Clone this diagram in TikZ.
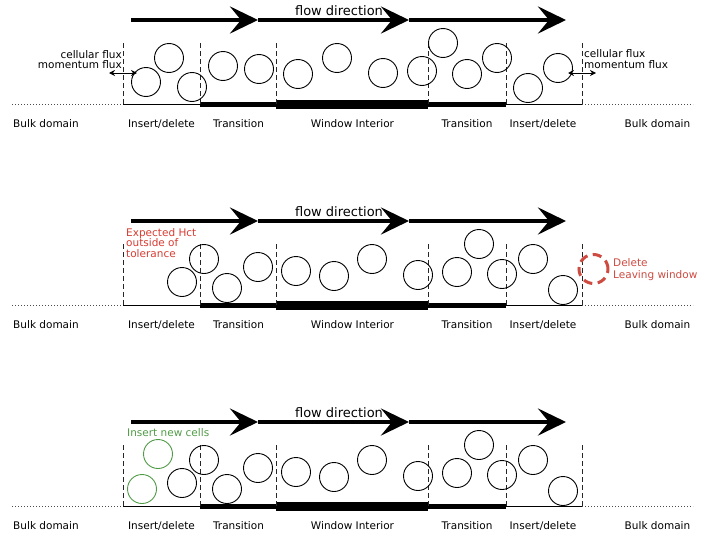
\documentclass[tikz,border=0pt]{standalone}
\usepackage{fontspec}
\setmainfont{DejaVu Sans}
\usetikzlibrary{arrows.meta}
\definecolor{hctred}{RGB}{215,60,50}
\definecolor{delred}{RGB}{205,75,65}
\definecolor{insgreen}{RGB}{80,155,70}
\tikzset{
  cell/.style={circle,draw=black,line width=0.9pt,minimum size=29pt,inner sep=0pt},
  newcell/.style={cell,draw=insgreen},
  gonecell/.style={circle,draw=delred,line width=3pt,dash pattern=on 9pt off 5.5pt,minimum size=29pt,inner sep=0pt},
  zonelbl/.style={font=\fontsize{10.5}{12}\selectfont,anchor=base,inner sep=0pt},
  note/.style={font=\fontsize{10.5}{12}\selectfont,inner sep=0pt},
  flowtxt/.style={font=\fontsize{13}{15}\selectfont,anchor=base,inner sep=0pt},
  flowline/.style={line width=4.5pt,-{Stealth[length=28pt,width=27pt,inset=11pt]}},
  fluxarrow/.style={line width=1pt,{Stealth[length=6pt,width=6pt]}-{Stealth[length=6pt,width=6pt]}},
  bounds/.style={dash pattern=on 5pt off 3pt,line width=0.7pt,draw=black!85},
  bulkline/.style={dash pattern=on 0.8pt off 2.2pt,line width=0.7pt,draw=black!70},
  thinline/.style={line width=1pt},
  midline/.style={line width=4.4pt},
  thickline/.style={line width=9pt},
}
\newcommand\windowpanel[2]{%
\begin{scope}[shift={(0,#1)}]
  \coordinate (#2f0) at (131,20);
  \coordinate (#2f1) at (258,20);
  \coordinate (#2f2) at (409,20);
  \coordinate (#2f3) at (566,20);
  \draw[flowline] (#2f0) -- (#2f1);
  \draw[flowline] (#2f1) -- (#2f2);
  \draw[flowline] (#2f2) -- (#2f3);
  \node[flowtxt] (#2flow) at (339,15.5) {flow direction};
  \coordinate (#2L) at (12,104);
  \coordinate (#2R) at (693,104);
  \foreach \k/\x in {0/123,1/200,2/276,3/428,4/506,5/582}{
    \coordinate (#2b\k) at (\x,104);
    \coordinate (#2t\k) at (\x,43);
  }
  \draw[bulkline] (#2L) -- (#2b0);
  \draw[bulkline] (#2b5) -- (#2R);
  \draw[thinline] (#2b0) -- (#2b1);
  \draw[thinline] (#2b4) -- (#2b5);
  \draw[midline] ([yshift=-0.5pt]#2b1) -- ([yshift=-0.5pt]#2b2);
  \draw[midline] ([yshift=-0.5pt]#2b3) -- ([yshift=-0.5pt]#2b4);
  \draw[thickline] ([yshift=-0.5pt]#2b2) -- ([yshift=-0.5pt]#2b3);
  \foreach \k in {0,...,5}{
    \draw[bounds] (#2t\k) -- (#2b\k);
  }
  \node[zonelbl] (#2z0) at (46,127) {Bulk domain};
  \node[zonelbl] (#2z1) at (161.5,127) {Insert/delete};
  \node[zonelbl] (#2z2) at (238.5,127) {Transition};
  \node[zonelbl] (#2z3) at (352.5,127) {Window Interior};
  \node[zonelbl] (#2z4) at (467,127) {Transition};
  \node[zonelbl] (#2z5) at (543,127) {Insert/delete};
  \node[zonelbl] (#2z6) at (657.5,127) {Bulk domain};
\end{scope}}
\begin{document}
\begin{tikzpicture}[x=1pt,y=-1pt]
  \useasboundingbox (0,0) rectangle (715,538);
  \clip (0,0) rectangle (715,538);
  % ---------- top panel ----------
  \windowpanel{0}{A}
  \foreach \i/\p in {1/{169,58},2/{146,82},3/{192,87},4/{223,66},5/{259,69},6/{298,74},7/{337,58},
                     8/{383,73},9/{422,71},10/{443,43},11/{467,74},12/{497,58},13/{528,88},14/{558,68}}{
    \node[cell] (Ac\i) at (\p) {};
  }
  \coordinate (AfluxL1) at (109,73);
  \coordinate (AfluxL2) at (137,73);
  \coordinate (AfluxR1) at (568,73);
  \coordinate (AfluxR2) at (596,73);
  \draw[fluxarrow] (AfluxL1) -- (AfluxL2);
  \draw[fluxarrow] (AfluxR1) -- (AfluxR2);
  \node[note,anchor=base east] (AnL1) at (122,58.5) {cellular flux};
  \node[note,anchor=base east] (AnL2) at (122,68.5) {momentum flux};
  \node[note,anchor=base west] (AnR1) at (584,57.5) {cellular flux};
  \node[note,anchor=base west] (AnR2) at (584,68.5) {momentum flux};
  % ---------- middle panel ----------
  \windowpanel{201}{B}
  \begin{scope}[shift={(0,201)}]
    \foreach \i/\p in {1/{182,81},2/{204,58},3/{227,87},4/{258,66},5/{296,70},6/{334,75},7/{372,58},
                       8/{418,74},9/{457,71},10/{479,43},11/{502,73},12/{533,58},13/{563,89}}{
      \node[cell] (Bc\i) at (\p) {};
    }
    \node[gonecell] (Bgone) at (593.5,68) {};
    \node[note,anchor=base west,text=hctred] (Bh1) at (126,35.5) {Expected Hct};
    \node[note,anchor=base west,text=hctred] (Bh2) at (126,45.5) {outside of};
    \node[note,anchor=base west,text=hctred] (Bh3) at (126,56.5) {tolerance};
    \node[note,anchor=base west,text=delred] (Bd1) at (613,65.5) {Delete};
    \node[note,anchor=base west,text=delred] (Bd2) at (613,77.5) {Leaving window};
  \end{scope}
  % ---------- bottom panel ----------
  \windowpanel{402}{C}
  \begin{scope}[shift={(0,402)}]
    \foreach \i/\p in {1/{182,81},2/{204,58},3/{227,87},4/{258,66},5/{296,70},6/{334,75},7/{372,58},
                       8/{418,74},9/{457,71},10/{479,43},11/{502,73},12/{533,58},13/{563,89}}{
      \node[cell] (Cc\i) at (\p) {};
    }
    \node[newcell] (Cn1) at (158,52) {};
    \node[newcell] (Cn2) at (142,87) {};
    \node[note,anchor=base west,text=insgreen] (Ci) at (127,34.5) {Insert new cells};
  \end{scope}
\end{tikzpicture}
\end{document}
